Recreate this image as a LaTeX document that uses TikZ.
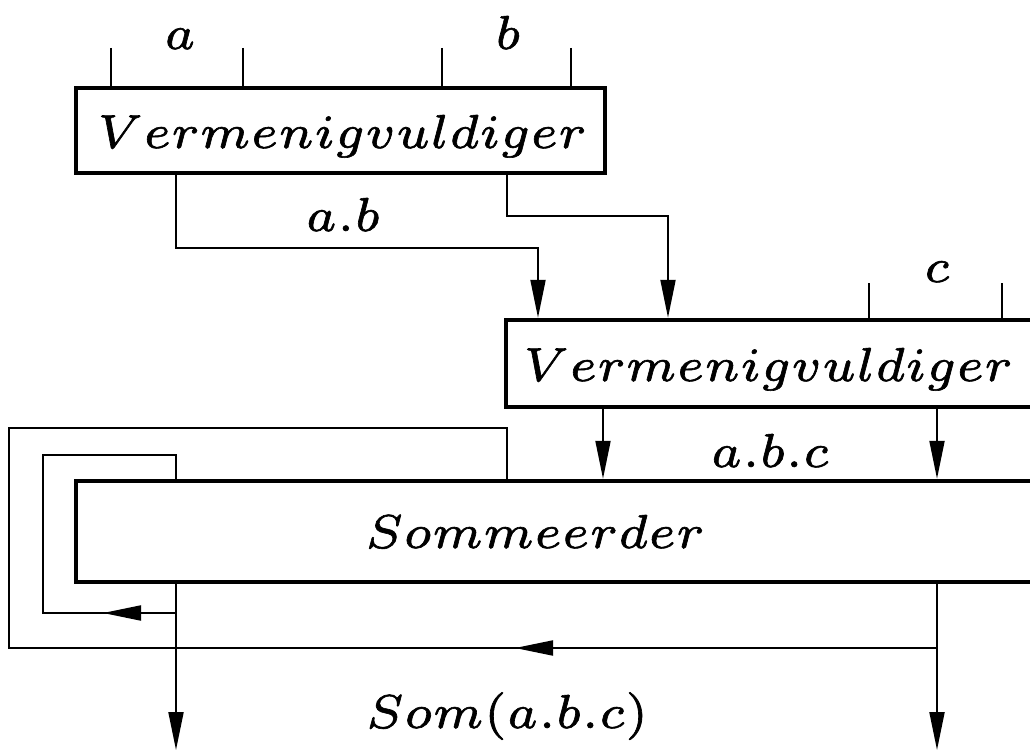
\documentclass[tikz,border=0pt]{standalone}
\usepackage{graphicx}
\usetikzlibrary{arrows.meta}
\makeatletter
% slightly widened small-size math italic, enlarged, with a thin kern between tokens;
% glyphs are filled and lightly stroked so the lettering comes out a little heavier
\def\lsp@aux#1{\ifx#1\relax\else#1\kern0.1pt\expandafter\lsp@aux\fi}
\newcommand\lsp[1]{\scalebox{7.1}[6.8]{\special{pdf:code q 2 Tr 0.09 w}%
  $\scriptstyle\lsp@aux#1\relax\unkern$\special{pdf:code Q}}}
\makeatother
\begin{document}
\begin{tikzpicture}[x=1pt,y=-1pt,
  box/.style={draw, line width=4.5pt, inner sep=0pt},
  wire/.style={line width=2pt},
  flow/.style={wire, -{Triangle[length=38pt,width=15pt]}},
  txt/.style={inner sep=0pt, anchor=base}]
\clip (0,0) rectangle (1030,751);

% blocks
\node[box, minimum width=529pt, minimum height=85pt] (box1) at (340.5,130.5) {};
\node[box, minimum width=554pt, minimum height=87pt] (box2) at (783,363.5) {};
\node[box, minimum width=984pt, minimum height=101pt] (box3) at (568,531.5) {};

% block titles
\node[txt] (t1) at (342,148) {\lsp{Vermenigvuldiger}};
\node[txt] (t2) at (768,381) {\lsp{Vermenigvuldiger}};
\node[txt] (t3) at (535,548) {\lsp{Sommeerder}};

% signal labels
\node[txt] (la)   at (180,49)  {\lsp{a}};
\node[txt] (lb)   at (508,49)  {\lsp{b}};
\node[txt] (lab)  at (343,231) {\lsp{a.b}};
\node[txt] (lc)   at (937,282) {\lsp{c}};
\node[txt] (labc) at (770,467) {\lsp{a.b.c}};
\node[txt] (lsom) at (507,728) {\lsp{Som(a.b.c)}};

% port columns and routing rows
\coordinate (cA) at (176,0);
\coordinate (cB) at (507,0);
\coordinate (cC) at (538,0);
\coordinate (cD) at (668,0);
\coordinate (cG) at (603,0);
\coordinate (cH) at (937,0);
\coordinate (rAB) at (0,248);
\coordinate (rB) at (0,216);

% input pins
\coordinate (i1) at (111,48);
\coordinate (i2) at (243,48);
\coordinate (i3) at (442,48);
\coordinate (i4) at (571,48);
\coordinate (i5) at (869,283);
\coordinate (i6) at (1002,283);
\foreach \p in {i1,i2,i3,i4} \draw[wire] (\p) -- (\p |- box1.north);
\foreach \p in {i5,i6} \draw[wire] (\p) -- (\p |- box2.north);

% first multiplier to second multiplier
\draw[flow] (cA |- box1.south) -- (cA |- rAB) -| (cC |- box2.north);
\draw[flow] (cB |- box1.south) -- (cB |- rB) -| (cD |- box2.north);

% second multiplier to adder
\draw[flow] (cG |- box2.south) -- (cG |- box3.north);
\draw[flow] (cH |- box2.south) -- (cH |- box3.north);

% outputs
\coordinate (oL) at (176,750);
\coordinate (oR) at (937,750);
\draw[flow] (cA |- box3.south) -- (oL);
\draw[flow] (cH |- box3.south) -- (oR);

% inner feedback loop
\coordinate (li) at (43,613);
\coordinate (lt) at (43,455);
\coordinate (tipI) at (103,613);
\draw[wire] (cA |- li) -- (li) -- (lt) -| (cA |- box3.north);
\draw[flow] (cA |- li) -- (tipI);

% outer feedback loop
\coordinate (lo) at (9,648);
\coordinate (lot) at (9,428);
\coordinate (tipO) at (515,648);
\draw[wire] (cH |- lo) -- (lo) -- (lot) -| (cB |- box3.north);
\draw[flow] (cH |- lo) -- (tipO);
\end{tikzpicture}
\end{document}
